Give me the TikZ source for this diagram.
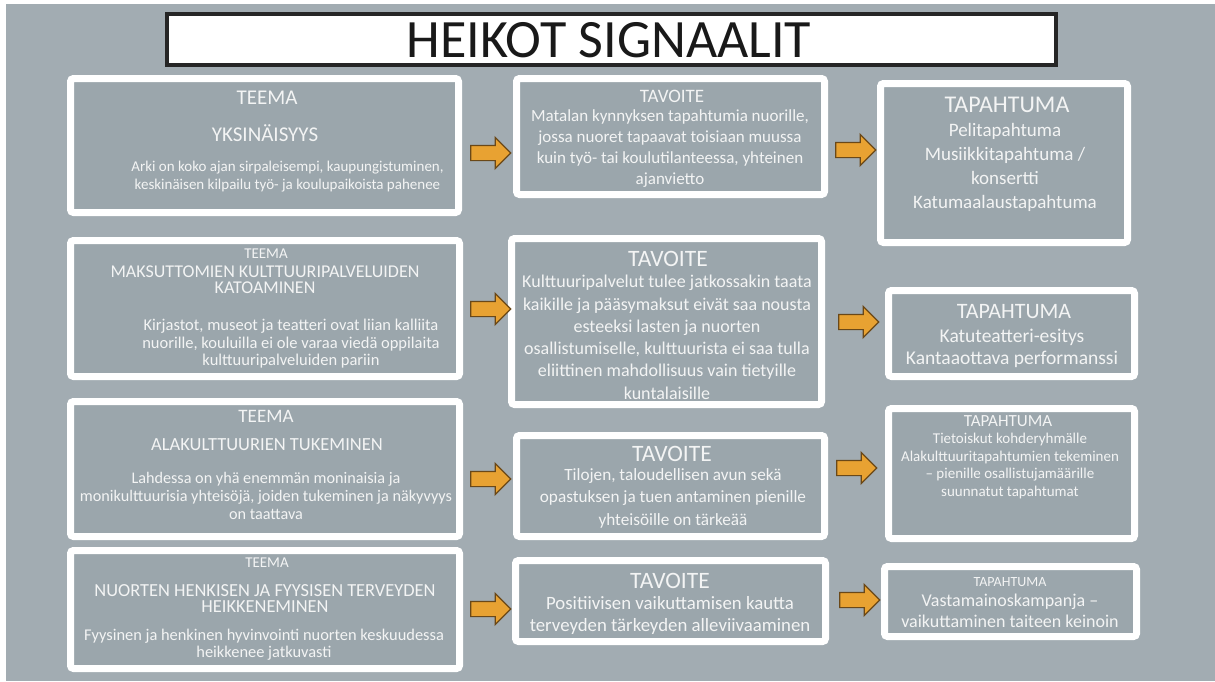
\documentclass[tikz,border=0pt]{standalone}
\usepackage{fontspec}
\setmainfont{Carlito}
\usetikzlibrary{shapes.arrows}

\definecolor{bggray}{HTML}{A2ACB2}
\definecolor{panelgray}{HTML}{9BA6AC}
\definecolor{txtwhite}{HTML}{F3F4F4}
\definecolor{arroworange}{HTML}{E8A232}
\definecolor{arrowline}{HTML}{6A4818}

\tikzset{
  panel/.style={draw=white, fill=panelgray, line width=7pt, rounded corners=3pt, inner sep=0pt},
  titlebox/.style={draw=black!85, fill=white, line width=4pt, inner sep=0pt},
  blockarrow/.style={single arrow, draw=arrowline, fill=arroworange, line width=1.2pt,
    minimum height=40pt, single arrow head extend=8pt, inner xsep=0pt, inner ysep=7pt},
  txt/.style={text=txtwhite, align=center, inner sep=0pt}
}

\begin{document}
\begin{tikzpicture}[x=1pt, y=-1pt]
\useasboundingbox (0,0) rectangle (1215,681);
% background
\fill[white] (0,0) rectangle (1215,681);
\fill[bggray] (6,4) rectangle (1215,681);

% title
\node[titlebox, minimum width=889pt, minimum height=51pt] (title) at (611.5,39.5) {};
\node[anchor=base, inner sep=0pt, text=black!90, font={\fontsize{54}{54}\selectfont}] (titletext) at (609,57) {HEIKOT SIGNAALIT};

% the panels of each row
\foreach \n/\x/\y/\w/\h in {
  teema1/264.5/145.5/388/134, tavoite1/670.5/136.5/308/116, tapahtuma1/1004/163/247/159,
  teema2/265/308.5/389/136, tavoite2/666.5/321.5/310/166, tapahtuma2/1011.5/333.5/246/86,
  teema3/265/469/389/135, tavoite3/670.5/486/308/101, tapahtuma3/1011.5/473.5/246/130,
  teema4/265/609.5/389/118, tavoite4/670.5/601/310/81, tapahtuma4/1010.5/601.5/252/70}
  \node[panel, minimum width=\w pt, minimum height=\h pt] (\n) at (\x,\y) {};

% arrows between the panels
\foreach \n/\x/\y in {
  arrowa1/487/153, arrowb1/852/150,
  arrowa2/487/309, arrowb2/855/322,
  arrowa3/487/479, arrowb3/853/468,
  arrowa4/487/609, arrowb4/856/600}
  \node[blockarrow] (\n) at (\x,\y) {};

% first row
\node[txt, anchor=base, font={\fontsize{21}{21}\selectfont}] (head1) at (267,104) {TEEMA};
\node[txt, anchor=base, font={\fontsize{21}{21}\selectfont}] (topic1) at (265,141) {YKSINÄISYYS};
\node[txt, anchor=north, font={\fontsize{15}{17.5}\selectfont}] (body1) at (287.5,161)
  {Arki on koko ajan sirpaleisempi, kaupungistuminen,\\ keskinäisen kilpailu työ- ja koulupaikoista pahenee};
\node[txt, anchor=base, font={\fontsize{19}{19}\selectfont}] (goalhead1) at (672,102) {TAVOITE};
\node[txt, anchor=north, font={\fontsize{17}{21}\selectfont}] (goal1) at (670,109)
  {Matalan kynnyksen tapahtumia nuorille,\\ jossa nuoret tapaavat toisiaan muussa\\ kuin työ- tai koulutilanteessa, yhteinen\\ ajanvietto};
\node[txt, anchor=base, font={\fontsize{24}{24}\selectfont}] (eventhead1) at (1007,112) {TAPAHTUMA};
\node[txt, anchor=north, font={\fontsize{19}{24}\selectfont}] (event1) at (1005,123)
  {Pelitapahtuma\\ Musiikkitapahtuma /\\ konsertti\\ Katumaalaustapahtuma};

% second row
\node[txt, anchor=base, font={\fontsize{15}{15}\selectfont}] (head2) at (266,258) {TEEMA};
\node[txt, anchor=north, font={\fontsize{18}{16}\selectfont}] (topic2) at (265,266)
  {MAKSUTTOMIEN KULTTUURIPALVELUIDEN\\ KATOAMINEN};
\node[txt, anchor=north, font={\fontsize{16.5}{17.5}\selectfont}] (body2) at (291,319)
  {Kirjastot, museot ja teatteri ovat liian kalliita\\ nuorille, kouluilla ei ole varaa viedä oppilaita\\ kulttuuripalveluiden pariin};
\node[txt, anchor=base, font={\fontsize{23.5}{23.5}\selectfont}] (goalhead2) at (668,266) {TAVOITE};
\node[txt, anchor=north, font={\fontsize{18}{22.3}\selectfont}] (goal2) at (667,275)
  {Kulttuuripalvelut tulee jatkossakin taata\\ kaikille ja pääsymaksut eivät saa nousta\\ esteeksi lasten ja nuorten\\ osallistumiselle, kulttuurista ei saa tulla\\ eliittinen mahdollisuus vain tietyille\\ kuntalaisille};
\node[txt, anchor=base, font={\fontsize{22}{22}\selectfont}] (eventhead2) at (1014,318) {TAPAHTUMA};
\node[txt, anchor=north, font={\fontsize{19.5}{21.5}\selectfont}] (event2) at (1012,329)
  {Katuteatteri-esitys\\ Kantaaottava performanssi};

% third row
\node[txt, anchor=base, font={\fontsize{19}{19}\selectfont}] (head3) at (266,422) {TEEMA};
\node[txt, anchor=base, font={\fontsize{18.5}{18.5}\selectfont}] (topic3) at (267,450) {ALAKULTTUURIEN TUKEMINEN};
\node[txt, anchor=north, font={\fontsize{16.2}{18}\selectfont}] (body3) at (266,472)
  {Lahdessa on yhä enemmän moninaisia ja\\ monikulttuurisia yhteisöjä, joiden tukeminen ja näkyvyys\\ on taattava};
\node[txt, anchor=base, font={\fontsize{23.5}{23.5}\selectfont}] (goalhead3) at (672,461) {TAVOITE};
\node[txt, anchor=north, font={\fontsize{17.2}{22.5}\selectfont}] (goal3) at (673,468)
  {Tilojen, taloudellisen avun sekä\\ opastuksen ja tuen antaminen pienille\\ yhteisöille on tärkeää};
\node[txt, anchor=base, font={\fontsize{17}{17}\selectfont}] (eventhead3) at (1008,426) {TAPAHTUMA};
\node[txt, anchor=north, font={\fontsize{15}{17.5}\selectfont}] (event3) at (1010,433)
  {Tietoiskut kohderyhmälle\\ Alakulttuuritapahtumien tekeminen\\ -- pienille osallistujamäärille\\ suunnatut tapahtumat};

% fourth row
\node[txt, anchor=base, font={\fontsize{15}{15}\selectfont}] (head4) at (267,567) {TEEMA};
\node[txt, anchor=north, font={\fontsize{18.4}{16}\selectfont}] (topic4) at (265,584)
  {NUORTEN HENKISEN JA FYYSISEN TERVEYDEN\\ HEIKKENEMINEN};
\node[txt, anchor=north, font={\fontsize{16.4}{16.5}\selectfont}] (body4) at (264,629)
  {Fyysinen ja henkinen hyvinvointi nuorten keskuudessa\\ heikkenee jatkuvasti};
\node[txt, anchor=base, font={\fontsize{23.5}{23.5}\selectfont}] (goalhead4) at (670,588) {TAVOITE};
\node[txt, anchor=north, font={\fontsize{18.8}{22}\selectfont}] (goal4) at (670,596)
  {Positiivisen vaikuttamisen kautta\\ terveyden tärkeyden alleviivaaminen};
\node[txt, anchor=base, font={\fontsize{14}{14}\selectfont}] (eventhead4) at (1010,586) {TAPAHTUMA};
\node[txt, anchor=north, font={\fontsize{18}{21}\selectfont}] (event4) at (1010,594)
  {Vastamainoskampanja --\\ vaikuttaminen taiteen keinoin};
\end{tikzpicture}
\end{document}
